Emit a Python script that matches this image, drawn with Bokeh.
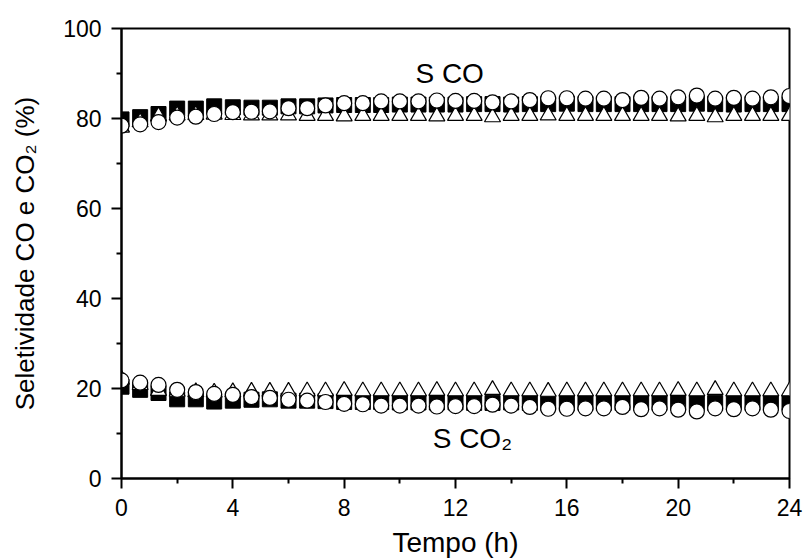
from bokeh.plotting import figure
from bokeh.models import FixedTicker, Label, Range1d
from bokeh.embed import file_html
from bokeh.resources import INLINE

# ---- data ----
tempo = [0, 0.67, 1.33, 2.0, 2.67, 3.33, 4.0, 4.67, 5.33, 6.0, 6.67, 7.33, 8.0,
         8.67, 9.33, 10.0, 10.67, 11.33, 12.0, 12.67, 13.33, 14.0, 14.67, 15.33,
         16.0, 16.67, 17.33, 18.0, 18.67, 19.33, 20.0, 20.67, 21.33, 22.0, 22.67,
         23.33, 24.0]

co_quad = [79.8, 80.3, 81.0, 82.2, 82.2, 82.7, 82.5, 82.4, 82.4, 82.7, 82.7, 82.9,
           83.0, 83.0, 83.0, 83.1, 83.1, 83.1, 83.1, 83.2, 83.2, 83.1, 83.2, 83.2,
           83.3, 83.2, 83.2, 83.2, 83.2, 83.2, 83.2, 83.3, 83.2, 83.1, 83.2, 83.2, 83.2]
co_circ = [78.4, 78.7, 79.2, 80.2, 80.4, 81.0, 81.4, 81.5, 81.6, 82.3, 82.3, 82.9,
           83.4, 83.4, 83.8, 83.8, 83.8, 84.0, 83.9, 83.9, 83.6, 83.8, 84.1, 84.5,
           84.5, 84.4, 84.4, 84.1, 84.6, 84.4, 84.7, 85.1, 84.4, 84.6, 84.4, 84.7, 85.0]
co_tri = [78.0, 79.2, 80.5, 80.7, 80.8, 80.9, 80.8, 80.7, 80.7, 80.7, 80.6, 80.6,
          80.5, 80.6, 80.6, 80.6, 80.6, 80.5, 80.6, 80.6, 80.3, 80.6, 80.6, 80.7,
          80.6, 80.6, 80.6, 80.6, 80.6, 80.6, 80.5, 80.6, 80.3, 80.6, 80.6, 80.6, 80.6]

co2_quad = [20.4, 19.7, 19.0, 17.6, 17.6, 17.1, 17.3, 17.5, 17.6, 17.3, 17.3, 17.2,
            17.0, 17.0, 17.0, 16.9, 16.9, 16.9, 16.9, 16.8, 16.8, 16.9, 16.8, 16.8,
            16.7, 16.8, 16.8, 16.8, 16.8, 16.8, 16.8, 16.7, 16.8, 16.9, 16.8, 16.8, 16.8]
co2_circ = [21.8, 21.3, 20.8, 19.7, 19.2, 18.8, 18.6, 18.1, 17.9, 17.5, 17.3, 17.0,
            16.6, 16.5, 16.2, 16.2, 16.2, 16.0, 16.1, 16.1, 16.4, 16.2, 15.9, 15.5,
            15.5, 15.6, 15.6, 15.9, 15.4, 15.6, 15.3, 14.9, 15.6, 15.4, 15.6, 15.3, 15.0]
co2_tri = [22.0, 20.8, 19.5, 19.3, 19.2, 19.1, 19.2, 19.3, 19.3, 19.3, 19.4, 19.4,
           19.5, 19.4, 19.4, 19.4, 19.4, 19.5, 19.4, 19.4, 19.7, 19.4, 19.4, 19.3,
           19.4, 19.4, 19.4, 19.4, 19.4, 19.4, 19.5, 19.4, 19.7, 19.4, 19.4, 19.4, 19.4]

x_major = [0, 4, 8, 12, 16, 20, 24]
x_minor = [2, 6, 10, 14, 18, 22]
y_major = [0, 20, 40, 60, 80, 100]
y_minor = [10, 30, 50, 70, 90]

FONT = "Liberation Sans"

p = figure(frame_width=668, frame_height=450,
           min_border_left=121, min_border_right=16,
           min_border_top=28, min_border_bottom=82,
           x_range=Range1d(0, 24), y_range=Range1d(0, 100),
           output_backend="svg", toolbar_location=None,
           x_axis_label="Tempo (h)",
           y_axis_label="Seletividade CO e CO₂ (%)")

p.background_fill_color = "white"
p.border_fill_color = "white"
p.grid.visible = False
p.outline_line_color = "black"
p.outline_line_width = 2

for ax in (p.xaxis[0], p.yaxis[0]):
    ax.axis_line_width = 2
    ax.major_tick_line_width = 2
    ax.minor_tick_line_width = 2
    ax.major_tick_in = 0
    ax.major_tick_out = 10
    ax.minor_tick_in = 0
    ax.minor_tick_out = 5
    ax.major_label_text_font = FONT
    ax.major_label_text_font_size = "23px"
    ax.major_label_text_color = "black"
    ax.axis_label_text_font = FONT
    ax.axis_label_text_font_style = "normal"
    ax.axis_label_text_color = "black"

p.xaxis[0].ticker = FixedTicker(ticks=x_major, minor_ticks=x_minor)
p.yaxis[0].ticker = FixedTicker(ticks=y_major, minor_ticks=y_minor)
p.xaxis[0].major_label_standoff = 10
p.yaxis[0].major_label_standoff = 10
p.xaxis[0].axis_label_text_font_size = "28px"
p.xaxis[0].axis_label_standoff = 8
p.yaxis[0].axis_label_text_font_size = "26px"
p.yaxis[0].axis_label_standoff = 20

# squares (filled), then triangles, then circles on top
for ys in (co_quad, co2_quad):
    p.scatter(tempo, ys, marker="square", size=15, fill_color="black",
              line_color="black", line_width=1)
for ys in (co_tri, co2_tri):
    p.scatter(tempo, ys, marker="triangle", size=16, fill_color="white",
              line_color="black", line_width=1.2)
for ys in (co_circ, co2_circ):
    p.scatter(tempo, ys, marker="circle", size=15, fill_color="white",
              line_color="black", line_width=1.2)

p.add_layout(Label(x=10.56, y=90, text="S CO", text_font=FONT,
                   text_font_size="28px", text_color="black",
                   text_baseline="alphabetic", text_align="left"))
p.add_layout(Label(x=11.18, y=8.9, text="S CO₂", text_font=FONT,
                   text_font_size="28px", text_color="black",
                   text_baseline="alphabetic", text_align="left"))

open("out.html", "w").write(file_html(p, INLINE))
